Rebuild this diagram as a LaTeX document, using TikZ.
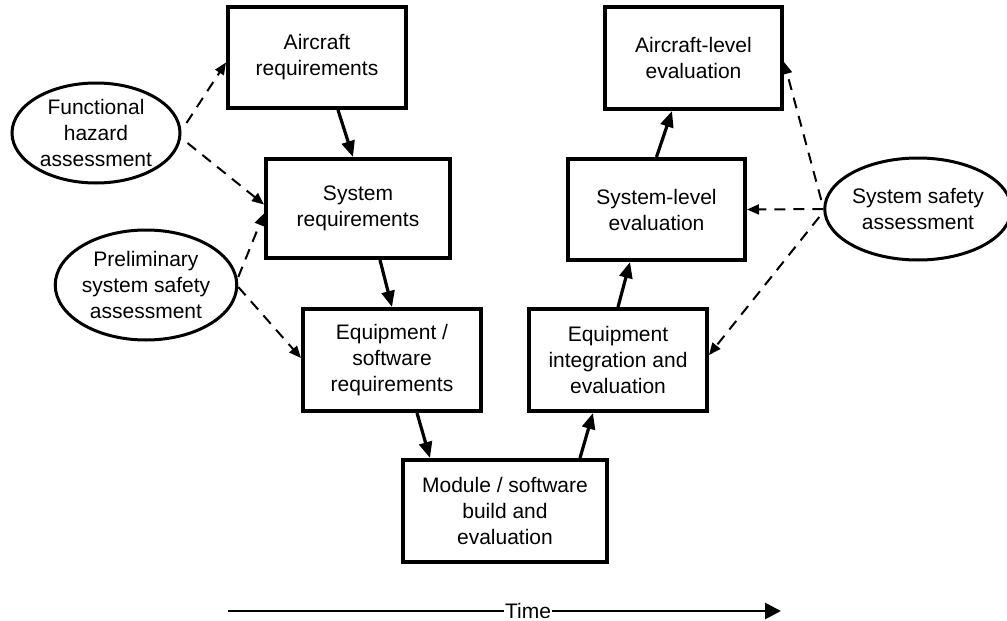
\documentclass[tikz,border=0pt]{standalone}
\usepackage{fontspec}
\setmainfont{Liberation Sans}
\usetikzlibrary{shapes.geometric,arrows.meta}
\begin{document}
\begin{tikzpicture}[x=1pt,y=-1pt,
  every node/.style={font=\fontsize{21}{26}\selectfont, align=center},
  box/.style={draw, line width=4pt, rectangle, inner sep=0pt},
  oval/.style={draw, line width=3pt, ellipse, inner sep=0pt},
  flow/.style={line width=3.2pt, -{Triangle[length=16pt,width=13pt]}},
  feed/.style={line width=2pt, dash pattern=on 11pt off 8pt, -{Triangle[length=12pt,width=10pt]}},
  timeline/.style={line width=2.8pt}
]
\useasboundingbox (0,0) rectangle (1007,621);
\fill[white] (0,0) rectangle (1007,621);

% boxes
\node[box, minimum width=178pt, minimum height=101pt] (acreq) at (317,57.5) {Aircraft\\requirements};
\node[box, minimum width=184pt, minimum height=99pt] (sysreq) at (358,208.5) {System\\requirements};
\node[box, minimum width=178pt, minimum height=102pt] (eqreq) at (392,360) {Equipment /\\software\\requirements};
\node[box, minimum width=204pt, minimum height=102pt] (module) at (505,511) {Module / software\\build and\\evaluation};
\node[box, minimum width=178pt, minimum height=102pt] (eqint) at (618,360) {Equipment\\integration and\\evaluation};
\node[box, minimum width=177pt, minimum height=101pt] (syslev) at (656.5,209.5) {System-level\\evaluation};
\node[box, minimum width=177pt, minimum height=102pt] (aclev) at (693.5,58) {Aircraft-level\\evaluation};

% ellipses
\node[oval, minimum width=168pt, minimum height=100pt] (fha) at (96,133) {Functional\\hazard\\assessment};
\node[oval, minimum width=169pt, minimum height=110pt] (pssa) at (146,285) {Preliminary\\system safety\\assessment};
\node[oval, minimum width=176pt, minimum height=102pt] (ssa) at (918,209) {System safety\\assessment};

% solid flow
\draw[flow] ([xshift=21pt]acreq.south) -- ([xshift=-5pt]sysreq.north);
\draw[flow] ([xshift=22pt]sysreq.south) -- (eqreq.north);
\draw[flow] ([xshift=25pt]eqreq.south) -- ([xshift=-75pt]module.north);
\draw[flow] ([xshift=75pt]module.north) -- ([xshift=-25pt]eqint.south);
\draw[flow] (eqint.north) -- ([xshift=-26.5pt]syslev.south);
\draw[flow] (syslev.north) -- ([xshift=-21.5pt]aclev.south);

% dashed feeds
\draw[feed] ([shift={(5,-10)}]fha.east) -- ([yshift=-5pt]acreq.west);
\draw[feed] ([shift={(6,10)}]fha.east) -- ([yshift=4pt]sysreq.west);
\draw[feed] ([shift={(0,-8)}]pssa.east) -- ([yshift=-5pt]sysreq.west);
\draw[feed] ([shift={(0,2)}]pssa.east) -- ([yshift=2pt]eqreq.west);
\draw[feed] ([shift={(-2,-9)}]ssa.west) -- ([yshift=-4pt]aclev.east);
\draw[feed] (ssa.west) -- (syslev.east);
\draw[feed] ([shift={(-4,8)}]ssa.west) -- ([yshift=5pt]eqint.east);

% time axis
\node[inner sep=1pt] (time) at (528,611) {Time};
\coordinate (tstart) at (228,611);
\coordinate (tend) at (781,611);
\draw[timeline] (tstart) -- (time.west);
\draw[timeline, -{Triangle[length=16pt,width=16pt]}] (time.east) -- (tend);
\end{tikzpicture}
\end{document}
